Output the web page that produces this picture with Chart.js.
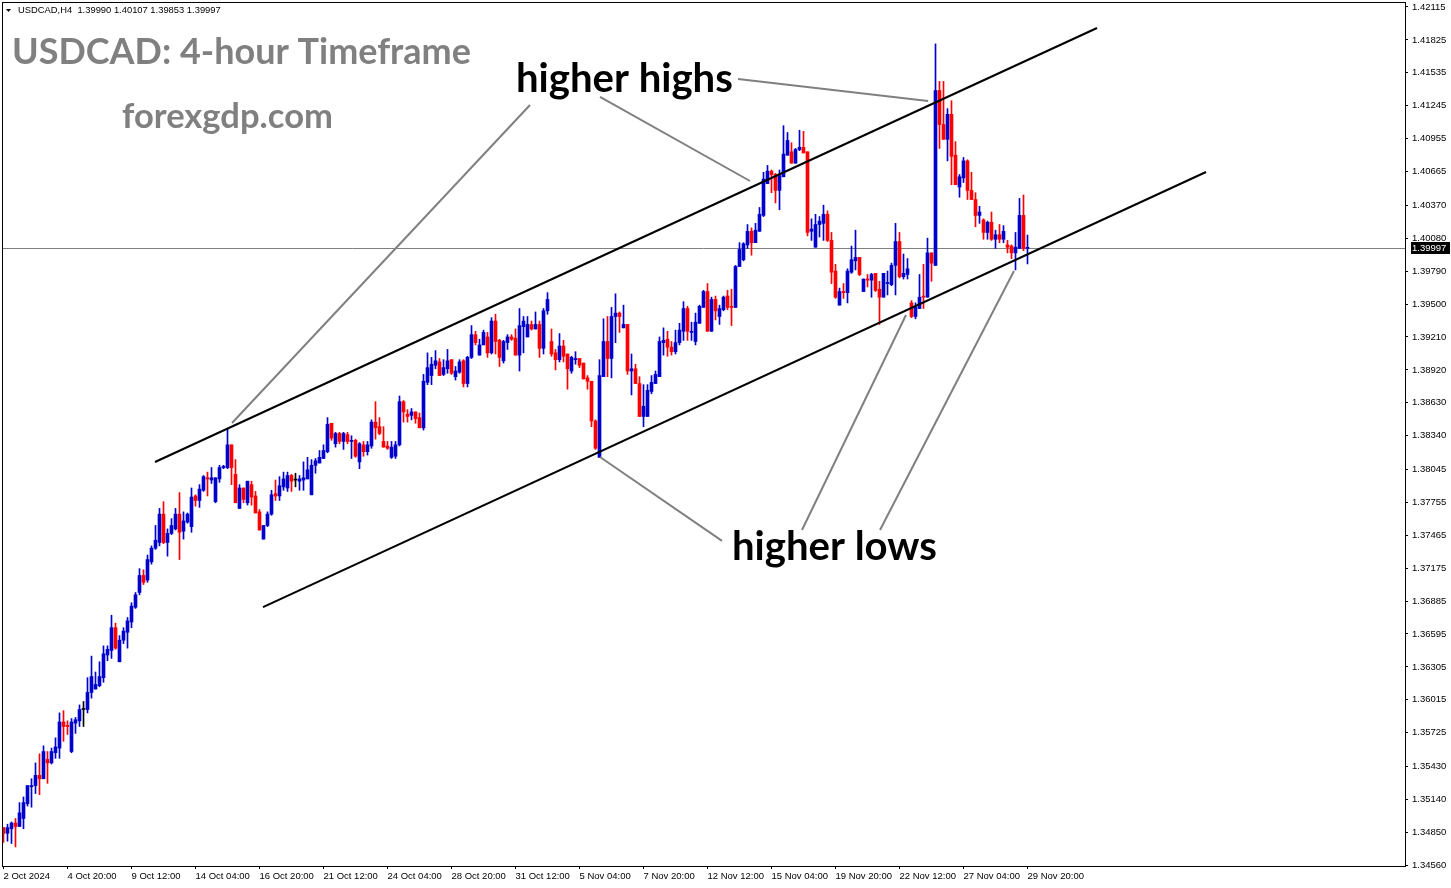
<!DOCTYPE html>
<html>
<head>
<meta charset="utf-8">
<title>USDCAD H4</title>
<script src="https://cdn.jsdelivr.net/npm/chart.js@4.4.1/dist/chart.umd.min.js"></script>
<style>
  html, body { margin: 0; padding: 0; background: #fff; }
  #wrap { width: 1451px; height: 888px; }
</style>
</head>
<body>
<div id="wrap"><canvas id="chart" width="1451" height="888"></canvas></div>
<script>
// USDCAD H4 candles, 2 Oct 2024 00:00 .. 29 Nov 2024 20:00 (one value per 4h bar)
const opens = [
  1.3489,1.3484,1.3488,1.3493,1.3490,1.3497,1.3510,1.3525,1.3526,1.3535,
  1.3532,1.3549,1.3546,1.3555,1.3559,1.3582,1.3579,1.3556,1.3581,1.3583,
  1.3593,1.3593,1.3608,1.3611,1.3614,1.3621,1.3641,1.3645,1.3665,1.3635,
  1.3654,1.3661,1.3670,1.3683,1.3696,1.3711,1.3707,1.3723,1.3735,1.3740,
  1.3765,1.3740,1.3748,1.3752,1.3765,1.3750,1.3758,1.3754,1.3781,1.3777,
  1.3786,1.3797,1.3795,1.3776,1.3796,1.3806,1.3806,1.3826,1.3800,1.3770,
  1.3788,1.3775,1.3791,1.3781,1.3767,1.3743,1.3755,1.3765,1.3783,1.3781,
  1.3789,1.3788,1.3799,1.3795,1.3794,1.3795,1.3796,1.3782,1.3808,1.3810,
  1.3814,1.3820,1.3845,1.3827,1.3836,1.3829,1.3835,1.3829,1.3830,1.3811,
  1.3826,1.3820,1.3825,1.3846,1.3842,1.3829,1.3825,1.3815,1.3816,1.3826,
  1.3864,1.3853,1.3852,1.3855,1.3850,1.3841,1.3881,1.3887,1.3896,1.3899,
  1.3888,1.3893,1.3901,1.3886,1.3890,1.3900,1.3880,1.3903,1.3923,1.3905,
  1.3914,1.3921,1.3907,1.3935,1.3918,1.3900,1.3916,1.3921,1.3920,1.3905,
  1.3930,1.3921,1.3932,1.3928,1.3932,1.3911,1.3944,1.3917,1.3907,1.3901,
  1.3913,1.3906,1.3891,1.3901,1.3902,1.3898,1.3885,1.3882,1.3847,1.3815,
  1.3886,1.3917,1.3902,1.3939,1.3942,1.3929,1.3932,1.3891,1.3893,1.3880,
  1.3851,1.3851,1.3873,1.3880,1.3886,1.3916,1.3919,1.3912,1.3908,1.3916,
  1.3926,1.3946,1.3925,1.3917,1.3933,1.3947,1.3961,1.3926,1.3954,1.3939,
  1.3945,1.3957,1.3948,1.3947,1.3983,1.3989,1.4002,1.4014,1.4004,1.4014,
  1.4028,1.4056,1.4067,1.4064,1.4050,1.4062,1.4081,1.4084,1.4074,1.4086,
  1.4088,1.4084,1.4014,1.4000,1.4020,1.4021,1.4029,1.4006,1.3979,1.3949,
  1.3961,1.3960,1.3978,1.3988,1.3991,1.3961,1.3972,1.3971,1.3977,1.3963,
  1.3956,1.3968,1.3967,1.3984,1.4005,1.3974,1.3976,1.3951,1.3939,1.3946,
  1.3957,1.3956,1.3995,1.3984,1.4138,1.4108,1.4095,1.4117,1.4081,1.4053,
  1.4061,1.4076,1.4050,1.4042,1.4028,1.4024,1.4013,1.4022,1.4007,1.4011,
  1.4007,1.4002,1.4001,1.3995,1.3999,1.4028,1.39990
];
const highs = [
  1.3489,1.3492,1.3494,1.3497,1.3511,1.3516,1.3526,1.3532,1.3546,1.3554,
  1.3561,1.3556,1.3559,1.3568,1.3590,1.3592,1.3583,1.3585,1.3586,1.3597,
  1.3600,1.3621,1.3640,1.3626,1.3635,1.3649,1.3649,1.3676,1.3669,1.3658,
  1.3665,1.3674,1.3687,1.3696,1.3717,1.3716,1.3729,1.3737,1.3755,1.3770,
  1.3776,1.3752,1.3761,1.3770,1.3784,1.3767,1.3766,1.3788,1.3782,1.3791,
  1.3799,1.3802,1.3806,1.3797,1.3808,1.3808,1.3840,1.3826,1.3813,1.3791,
  1.3788,1.3794,1.3794,1.3785,1.3769,1.3755,1.3767,1.3786,1.3795,1.3798,
  1.3802,1.3802,1.3800,1.3801,1.3799,1.3811,1.3815,1.3813,1.3814,1.3821,
  1.3826,1.3850,1.3845,1.3837,1.3837,1.3837,1.3837,1.3834,1.3831,1.3828,
  1.3829,1.3829,1.3848,1.3864,1.3850,1.3842,1.3829,1.3829,1.3829,1.3869,
  1.3865,1.3857,1.3858,1.3855,1.3854,1.3888,1.3907,1.3903,1.3909,1.3902,
  1.3901,1.3910,1.3901,1.3895,1.3901,1.3901,1.3904,1.3931,1.3926,1.3919,
  1.3927,1.3925,1.3938,1.3941,1.3919,1.3918,1.3923,1.3923,1.3928,1.3946,
  1.3939,1.3939,1.3935,1.3943,1.3935,1.3946,1.3960,1.3928,1.3910,1.3924,
  1.3918,1.3906,1.3904,1.3908,1.3902,1.3898,1.3887,1.3882,1.3848,1.3901,
  1.3937,1.3939,1.3947,1.3959,1.3943,1.3949,1.3932,1.3906,1.3897,1.3886,
  1.3879,1.3879,1.3887,1.3891,1.3921,1.3929,1.3926,1.3917,1.3927,1.3933,
  1.3952,1.3948,1.3934,1.3942,1.3949,1.3962,1.3968,1.3956,1.3957,1.3949,
  1.3957,1.3962,1.3963,1.3984,1.4004,1.4004,1.4020,1.4017,1.4021,1.4035,
  1.4066,1.4072,1.4068,1.4065,1.4068,1.4107,1.4101,1.4092,1.4087,1.4103,
  1.4102,1.4084,1.4025,1.4029,1.4027,1.4037,1.4032,1.4013,1.3985,1.3964,
  1.3968,1.3981,1.4001,1.4015,1.3991,1.3972,1.3976,1.3977,1.3977,1.3970,
  1.3977,1.3979,1.3986,1.4021,1.4013,1.3994,1.3990,1.3953,1.3951,1.3976,
  1.3985,1.4008,1.3995,1.4179,1.4146,1.4146,1.4122,1.4129,1.4093,1.4064,
  1.4079,1.4077,1.4066,1.4048,1.4036,1.4025,1.4023,1.4031,1.4015,1.4020,
  1.4019,1.4006,1.4002,1.4013,1.4043,1.4046,1.40107
];
const lows = [
  1.3476,1.3477,1.3475,1.3472,1.3490,1.3488,1.3508,1.3507,1.3519,1.3518,
  1.3532,1.3528,1.3545,1.3550,1.3550,1.3565,1.3571,1.3555,1.3572,1.3578,
  1.3578,1.3590,1.3603,1.3611,1.3613,1.3617,1.3636,1.3638,1.3646,1.3635,
  1.3651,1.3647,1.3665,1.3682,1.3694,1.3703,1.3705,1.3721,1.3734,1.3737,
  1.3739,1.3728,1.3747,1.3751,1.3725,1.3743,1.3757,1.3749,1.3772,1.3771,
  1.3785,1.3781,1.3792,1.3775,1.3793,1.3805,1.3805,1.3791,1.3775,1.3770,
  1.3775,1.3773,1.3773,1.3766,1.3751,1.3743,1.3754,1.3764,1.3777,1.3777,
  1.3786,1.3785,1.3785,1.3789,1.3786,1.3786,1.3796,1.3782,1.3801,1.3810,
  1.3814,1.3819,1.3830,1.3824,1.3827,1.3822,1.3827,1.3814,1.3815,1.3805,
  1.3816,1.3817,1.3823,1.3831,1.3835,1.3824,1.3822,1.3814,1.3814,1.3825,
  1.3846,1.3846,1.3848,1.3845,1.3841,1.3839,1.3879,1.3879,1.3893,1.3887,
  1.3887,1.3889,1.3888,1.3883,1.3889,1.3877,1.3877,1.3902,1.3914,1.3905,
  1.3914,1.3903,1.3906,1.3906,1.3895,1.3898,1.3910,1.3918,1.3905,1.3891,
  1.3907,1.3921,1.3927,1.3928,1.3903,1.3906,1.3941,1.3904,1.3892,1.3899,
  1.3899,1.3875,1.3889,1.3897,1.3894,1.3884,1.3875,1.3842,1.3822,1.3815,
  1.3886,1.3886,1.3885,1.3916,1.3925,1.3929,1.3888,1.3870,1.3880,1.3851,
  1.3842,1.3851,1.3871,1.3880,1.3886,1.3905,1.3904,1.3905,1.3906,1.3914,
  1.3918,1.3918,1.3918,1.3914,1.3933,1.3947,1.3926,1.3926,1.3936,1.3932,
  1.3944,1.3945,1.3931,1.3947,1.3983,1.3988,1.3999,1.3993,1.4004,1.4014,
  1.4027,1.4056,1.4048,1.4039,1.4033,1.4062,1.4081,1.4074,1.4074,1.4085,
  1.4083,1.4010,1.4006,1.4000,1.4009,1.4006,1.4005,1.3968,1.3955,1.3949,
  1.3955,1.3951,1.3977,1.3980,1.3975,1.3961,1.3965,1.3956,1.3961,1.3932,
  1.3956,1.3958,1.3966,1.3958,1.3973,1.3972,1.3972,1.3938,1.3937,1.3946,
  1.3946,1.3956,1.3970,1.3984,1.4087,1.4095,1.4076,1.4055,1.4055,1.4044,
  1.4057,1.4042,1.4042,1.4018,1.4021,1.4007,1.4007,1.4006,1.3999,1.4004,
  1.4004,1.3995,1.3990,1.3980,1.3999,1.3997,1.39853
];
const closes = [
  1.3484,1.3489,1.3493,1.3490,1.3502,1.3511,1.3526,1.3526,1.3535,1.3532,
  1.3556,1.3546,1.3556,1.3560,1.3582,1.3578,1.3578,1.3582,1.3584,1.3593,
  1.3593,1.3608,1.3622,1.3615,1.3622,1.3642,1.3646,1.3665,1.3647,1.3654,
  1.3662,1.3671,1.3684,1.3694,1.3711,1.3705,1.3725,1.3735,1.3742,1.3765,
  1.3740,1.3748,1.3755,1.3765,1.3749,1.3759,1.3765,1.3780,1.3777,1.3787,
  1.3798,1.3796,1.3797,1.3797,1.3806,1.3807,1.3826,1.3806,1.3775,1.3788,
  1.3778,1.3794,1.3780,1.3766,1.3751,1.3755,1.3765,1.3782,1.3781,1.3790,
  1.3796,1.3799,1.3794,1.3795,1.3796,1.3797,1.3804,1.3808,1.3812,1.3815,
  1.3821,1.3844,1.3832,1.3836,1.3829,1.3836,1.3829,1.3830,1.3816,1.3827,
  1.3820,1.3826,1.3846,1.3841,1.3836,1.3824,1.3823,1.3824,1.3826,1.3864,
  1.3855,1.3851,1.3855,1.3849,1.3841,1.3882,1.3894,1.3897,1.3900,1.3887,
  1.3894,1.3900,1.3889,1.3891,1.3899,1.3880,1.3903,1.3923,1.3916,1.3914,
  1.3925,1.3907,1.3935,1.3917,1.3903,1.3917,1.3921,1.3919,1.3905,1.3931,
  1.3935,1.3932,1.3928,1.3932,1.3911,1.3944,1.3954,1.3906,1.3901,1.3913,
  1.3904,1.3893,1.3903,1.3902,1.3896,1.3884,1.3882,1.3847,1.3823,1.3887,
  1.3917,1.3902,1.3939,1.3942,1.3939,1.3932,1.3891,1.3893,1.3880,1.3851,
  1.3860,1.3874,1.3881,1.3888,1.3917,1.3918,1.3912,1.3908,1.3916,1.3927,
  1.3946,1.3926,1.3926,1.3934,1.3948,1.3961,1.3926,1.3954,1.3944,1.3946,
  1.3956,1.3947,1.3947,1.3983,1.3998,1.4003,1.4014,1.4004,1.4015,1.4029,
  1.4060,1.4067,1.4064,1.4050,1.4063,1.4082,1.4094,1.4074,1.4086,1.4088,
  1.4083,1.4013,1.4016,1.4020,1.4023,1.4029,1.4006,1.3978,1.3956,1.3961,
  1.3960,1.3979,1.3989,1.3991,1.3976,1.3972,1.3971,1.3976,1.3962,1.3956,
  1.3977,1.3969,1.3984,1.4005,1.3974,1.3977,1.3981,1.3939,1.3947,1.3956,
  1.3956,1.3995,1.3986,1.4138,1.4108,1.4095,1.4117,1.4080,1.4055,1.4062,
  1.4076,1.4050,1.4042,1.4028,1.4031,1.4013,1.4022,1.4007,1.4011,1.4007,
  1.4014,1.4000,1.3995,1.4000,1.4028,1.3999,1.39997
];

// time axis: one label every 16 bars
const dateLabels = ['2 Oct 2024','4 Oct 20:00','9 Oct 12:00','14 Oct 04:00','16 Oct 20:00',
  '21 Oct 12:00','24 Oct 04:00','28 Oct 20:00','31 Oct 12:00','5 Nov 04:00','7 Nov 20:00',
  '12 Nov 12:00','15 Nov 04:00','19 Nov 20:00','22 Nov 12:00','27 Nov 04:00','29 Nov 20:00'];
const barsPerLabel = 16;

// price axis as MT4 prints it
const priceTicks = ['1.42115','1.41825','1.41535','1.41245','1.40955','1.40665','1.40370',
  '1.40080','1.39790','1.39500','1.39210','1.38920','1.38630','1.38340','1.38045','1.37755',
  '1.37465','1.37175','1.36885','1.36595','1.36305','1.36015','1.35725','1.35430','1.35140',
  '1.34850','1.34560'];
const priceRange = [1.34552, 1.42159];
const barRange = [-0.375, 350.375];
const bidPrice = 1.39997;

// trend lines [barFrom, priceFrom, barTo, priceTo]
const channelLines = [
  [37.875, 1.38109, 273.375, 1.41930],
  [64.875, 1.36832, 300.625, 1.40662]
];
const pointerLines = [
  [131.625, 1.41252, 57.125, 1.38452],
  [149.125, 1.41323, 186.625, 1.40583],
  [183.625, 1.41481, 231.125, 1.41288],
  [179.625, 1.37414, 149.125, 1.38153],
  [199.625, 1.37510, 225.625, 1.39403],
  [219.125, 1.37510, 252.625, 1.39791]
];
// chart labels anchored at [bar, price] (left edge, baseline)
const callouts = [
  { text: 'higher highs', bar: 128.1, price: 1.41367, width: 217 },
  { text: 'higher lows', bar: 182.1, price: 1.37246, width: 205 }
];

const UP = '#0000cd', DOWN = '#ff0000', DOJI = '#000000';
const bars = closes.map((c, i) => i);
const barColors = bars.map(i => closes[i] > opens[i] ? UP : (closes[i] < opens[i] ? DOWN : DOJI));

function lineSet(l, color) {
  return {
    type: 'line',
    data: [{ x: l[0], y: l[1] }, { x: l[2], y: l[3] }],
    borderColor: color, borderWidth: 2, pointRadius: 0, tension: 0, fill: false, order: 0
  };
}

function fitFont(ctx, text, weight, family, targetW) {
  ctx.font = weight + ' 100px ' + family;
  return 100 * targetW / ctx.measureText(text).width;
}

const decor = {
  id: 'decor',
  beforeDatasetsDraw(chart) {
    const { ctx, chartArea: ca, scales: { y } } = chart;
    const py = Math.round(y.getPixelForValue(bidPrice)) + 0.5;
    ctx.save();
    ctx.strokeStyle = '#808080';
    ctx.lineWidth = 1;
    ctx.beginPath();
    ctx.moveTo(ca.left, py);
    ctx.lineTo(ca.right, py);
    ctx.stroke();
    ctx.restore();
  },
  afterDraw(chart) {
    const { ctx, chartArea: ca, scales: { x, y } } = chart;
    ctx.save();
    // frame
    ctx.strokeStyle = '#000';
    ctx.lineWidth = 1;
    ctx.strokeRect(ca.left + 0.5, ca.top + 0.5, ca.right - ca.left, ca.bottom - ca.top);

    // bid label on the price axis
    const py = Math.round(y.getPixelForValue(bidPrice));
    ctx.fillStyle = '#000';
    ctx.fillRect(ca.right + 6, py - 6, 39, 12);
    ctx.fillStyle = '#fff';
    ctx.font = '9.5px "Liberation Sans", Arial, sans-serif';
    ctx.textBaseline = 'middle';
    ctx.textAlign = 'left';
    ctx.fillText(bidPrice.toFixed(5), ca.right + 7, py + 0.5);

    // header line
    const last = closes.length - 1;
    const head = 'USDCAD,H4  ' + [opens[last], highs[last], lows[last], closes[last]].map(v => v.toFixed(5)).join(' ');
    ctx.fillStyle = '#000';
    ctx.textBaseline = 'alphabetic';
    const hs = fitFont(ctx, head, 'normal', '"Liberation Sans", Arial, sans-serif', 203);
    ctx.font = hs.toFixed(2) + 'px "Liberation Sans", Arial, sans-serif';
    ctx.fillText(head, 18, 13);
    ctx.beginPath();
    ctx.moveTo(6, 9); ctx.lineTo(11, 9); ctx.lineTo(8.5, 12);
    ctx.closePath();
    ctx.fill();

    // watermark titles
    ctx.fillStyle = '#808080';
    const t1 = 'USDCAD: 4-hour Timeframe';
    let s = fitFont(ctx, t1, 'bold', 'Lato, "Open Sans", sans-serif', 459);
    ctx.font = 'bold ' + s.toFixed(2) + 'px Lato, "Open Sans", sans-serif';
    ctx.fillText(t1, 12, 64);
    const t2 = 'forexgdp.com';
    s = fitFont(ctx, t2, 'bold', 'Lato, "Open Sans", sans-serif', 211);
    ctx.font = 'bold ' + s.toFixed(2) + 'px Lato, "Open Sans", sans-serif';
    ctx.fillText(t2, 122, 128);

    // callouts
    ctx.fillStyle = '#000';
    callouts.forEach(c => {
      const fs = fitFont(ctx, c.text, 'bold', 'Lato, "Open Sans", sans-serif', c.width);
      ctx.font = 'bold ' + fs.toFixed(2) + 'px Lato, "Open Sans", sans-serif';
      ctx.fillText(c.text, x.getPixelForValue(c.bar), y.getPixelForValue(c.price));
    });
    ctx.restore();
  }
};

const tickFont = { family: '"Liberation Sans", Arial, sans-serif', size: 9.5 };

new Chart(document.getElementById('chart'), {
  type: 'bar',
  data: {
    datasets: [
      ...channelLines.map(l => lineSet(l, '#000000')),
      ...pointerLines.map(l => lineSet(l, '#808080')),
      {
        type: 'bar', label: 'body',
        data: bars.map(i => ({ x: i, y: [opens[i], closes[i]] })),
        backgroundColor: barColors, borderWidth: 0,
        barThickness: 3, minBarLength: 1, grouped: false, order: 2
      },
      {
        type: 'bar', label: 'wick',
        data: bars.map(i => ({ x: i, y: [lows[i], highs[i]] })),
        backgroundColor: barColors, borderWidth: 0,
        barThickness: 1, minBarLength: 1, grouped: false, order: 3
      }
    ]
  },
  options: {
    responsive: false,
    animation: false,
    devicePixelRatio: 1,
    events: [],
    layout: { padding: { left: 2, top: 2, right: 0, bottom: 0 } },
    plugins: { legend: { display: false }, tooltip: { enabled: false } },
    scales: {
      x: {
        type: 'linear', min: barRange[0], max: barRange[1], offset: false,
        afterBuildTicks: s => { s.ticks = dateLabels.map((d, k) => ({ value: k * barsPerLabel })); },
        afterFit: s => { s.height = 22; s.paddingLeft = 0; s.paddingRight = 0; },
        grid: { drawOnChartArea: false, drawTicks: true, tickLength: 3, color: '#000', offset: false },
        border: { display: false },
        ticks: {
          autoSkip: false, maxRotation: 0, minRotation: 0, align: 'start', padding: 2,
          color: '#000', font: tickFont,
          callback: v => dateLabels[Math.round(v / barsPerLabel)]
        }
      },
      y: {
        type: 'linear', position: 'right', min: priceRange[0], max: priceRange[1],
        afterBuildTicks: s => { s.ticks = priceTicks.map(t => ({ value: parseFloat(t) })); },
        afterFit: s => { s.width = 46; s.paddingTop = 0; s.paddingBottom = 0; },
        grid: { drawOnChartArea: false, drawTicks: true, tickLength: 3, color: '#000' },
        border: { display: false },
        ticks: {
          autoSkip: false, padding: 4, color: '#000', font: tickFont,
          callback: v => v.toFixed(5)
        }
      }
    }
  },
  plugins: [decor]
});
</script>
</body>
</html>
